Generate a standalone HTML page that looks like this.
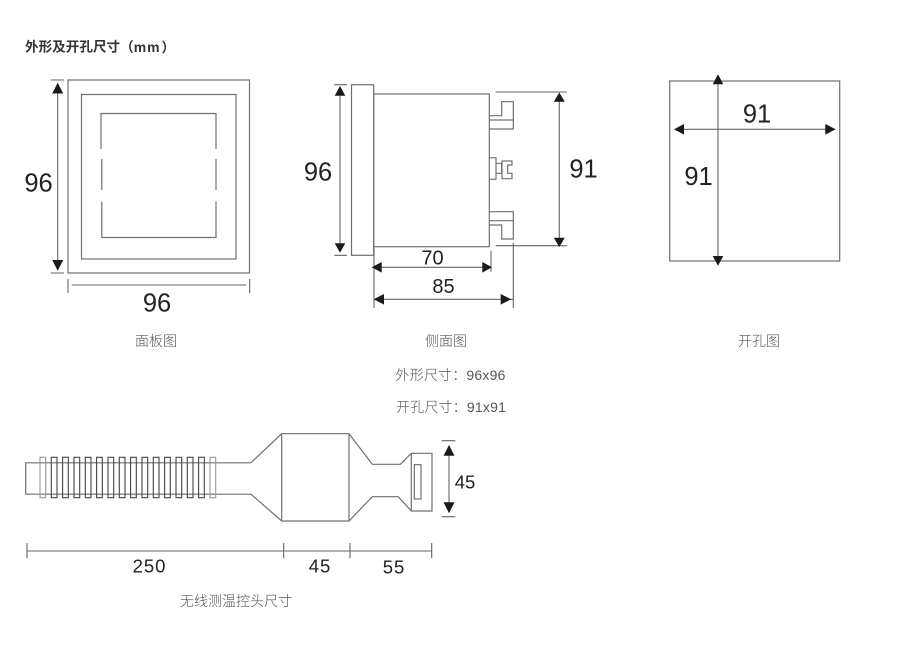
<!DOCTYPE html>
<html lang="zh">
<head>
<meta charset="utf-8">
<title>外形及开孔尺寸</title>
<style>
html,body{margin:0;padding:0;background:#fff;}
svg{display:block;}
.l{fill:none;stroke:#707070;stroke-width:1.2;}
.d{fill:none;stroke:#666;stroke-width:1.1;}
.a{fill:#1a1a1a;stroke:none;}
.n{font-family:"Liberation Sans",sans-serif;fill:#222;text-anchor:middle;dominant-baseline:central;}
.c{font-family:"Liberation Sans","Noto Sans CJK SC",sans-serif;fill:#555;font-size:14px;font-weight:300;text-anchor:middle;dominant-baseline:central;}
</style>
</head>
<body>
<svg width="900" height="647" viewBox="0 0 900 647" xmlns="http://www.w3.org/2000/svg">
<rect width="900" height="647" fill="#fff"/>

<text x="25" y="47" font-family="'Liberation Sans','Noto Sans CJK SC',sans-serif" font-size="13.6" font-weight="700" fill="#333" dominant-baseline="central">外形及开孔尺寸（<tspan font-size="14" letter-spacing="0.9">mm</tspan><tspan dx="1">）</tspan></text>

<!-- Panel view -->
<rect class="l" x="68" y="80" width="181.5" height="193"/>
<rect class="l" x="81.5" y="94.5" width="154.5" height="164.5"/>
<path class="l" d="M101 149V113.5H216V149M216 159V190M216 201.500V237.500H101.800V201.500M101.800 190V159"/>
<path class="d" d="M57.700 84V270M50.700 80H64M50.700 273H64"/>
<path class="a" d="M57.700 82.700L63.200 93.500H52.200ZM57.700 270.700L63.200 260H52.200Z"/>
<path class="d" d="M71.700 285H246M68 279V293M249.700 279V293"/>
<text class="n" x="38.500" y="183.700" font-size="25.500">96</text>
<text class="n" x="157" y="303.700" font-size="25.500">96</text>

<!-- Side view -->
<rect class="l" x="351.500" y="84.700" width="22.200" height="170.600"/>
<rect class="l" x="373.700" y="94" width="115.600" height="152.700"/>
<path class="d" d="M340 88V250M334.300 84.700H347M334.300 255.300H347"/>
<path class="a" d="M340 86L345.300 95.700H334.700ZM340 252.700L345.300 243.300H334.700Z"/>
<text class="n" x="318" y="172.700" font-size="25.500">96</text>

<path class="l" d="M489.300 115.700H501.700V101.700H513.300V129H489.300M489.300 120H513.300"/>
<path class="l" d="M489.300 211.700H513.300V239H501.700V225H489.300M489.300 220.700H513.300"/>
<path class="l" d="M489.300 157.700H496V179.300H489.300M496 163.300H501.700V173.300H496"/>
<path class="l" d="M502 161H512V165H507.700V173.300H512V178.700H502Z"/>

<path class="d" d="M495.700 92H566.700M495.700 245.700H566.700M559.300 95V244"/>
<path class="a" d="M559.300 92.500L564.800 101.700H553.800ZM559.300 247L564.800 237.700H553.800Z"/>
<text class="n" x="583.500" y="169.700" font-size="25.500">91</text>

<path class="d" d="M374 247V308M491 250.700V271.700M513.300 242.700V308M374 267.300H491M374 299.300H513"/>
<path class="a" d="M371.700 267.300L381.700 262V272.600ZM492 267.300L482.300 262V272.600ZM373.700 299.300L384 294V304.600ZM511 299.300L500.700 294V304.600Z"/>
<text class="n" x="432.500" y="258.500" font-size="20">70</text>
<text class="n" x="443.500" y="287" font-size="20">85</text>

<!-- Cutout -->
<rect class="l" x="669.700" y="81" width="170" height="180"/>
<path class="d" d="M718 76V264M676 129.300H834"/>
<path class="a" d="M718 74.300L723.300 84.300H712.700ZM718 265.700L723.300 256H712.700ZM674 129.300L684 124V134.600ZM835.700 129.300L825.300 124V134.600Z"/>
<text class="n" x="757" y="114.700" font-size="25.500">91</text>
<text class="n" x="698.500" y="177.200" font-size="25.500">91</text>

<text class="c" x="156" y="341">面板图</text>
<text class="c" x="446" y="341">侧面图</text>
<text class="c" x="759" y="341">开孔图</text>
<text class="c" x="450.500" y="375" letter-spacing="0.2">外形尺寸：96x96</text>
<text class="c" x="451" y="407" letter-spacing="0.2">开孔尺寸：91x91</text>

<!-- Probe -->
<path class="l" d="M250.700 462.800H25.700V494.200H250.700"/>
<g fill="none" stroke="#444" stroke-width="1.100">
<rect x="51.300" y="457.300" width="5.700" height="40.400"/>
<rect x="62.600" y="457.300" width="5.700" height="40.400"/>
<rect x="74" y="457.300" width="5.700" height="40.400"/>
<rect x="85.300" y="457.300" width="5.700" height="40.400"/>
<rect x="96.600" y="457.300" width="5.700" height="40.400"/>
<rect x="108" y="457.300" width="5.700" height="40.400"/>
<rect x="119.300" y="457.300" width="5.700" height="40.400"/>
<rect x="130.600" y="457.300" width="5.700" height="40.400"/>
<rect x="142" y="457.300" width="5.700" height="40.400"/>
<rect x="153.300" y="457.300" width="5.700" height="40.400"/>
<rect x="164.600" y="457.300" width="5.700" height="40.400"/>
<rect x="176" y="457.300" width="5.700" height="40.400"/>
<rect x="187.300" y="457.300" width="5.700" height="40.400"/>
<rect x="198.600" y="457.300" width="5.700" height="40.400"/>
</g>
<g fill="none" stroke="#999" stroke-width="1.100">
<rect x="40" y="457.300" width="5.700" height="40.400"/>
<rect x="210" y="457.300" width="5.700" height="40.400"/>
</g>
<path class="l" d="M250.700 463L281.700 433.700H349L372.300 464.300H400.300L411.300 453.300H432V511H411.300L398.300 496.700H372.300L349 521H281.700L250.700 494M281.700 433.700V521M349 433.700V521M411.300 453.300V511"/>
<rect class="l" x="414.300" y="464.700" width="6.700" height="34.300"/>
<path class="d" d="M449 448V510M441.700 440.700H455.300M441.700 516.700H455.300"/>
<path class="a" d="M449 445L454.500 455.700H443.500ZM449 513.300L454.500 502.300H443.500Z"/>
<text class="n" x="465" y="482" font-size="18.500">45</text>

<path class="d" d="M27 551H432M27 543V558.300M283.700 543V558.300M350 543V558.300M431.700 543V558.300"/>
<text class="n" x="149.500" y="566" font-size="18.500" letter-spacing="1">250</text>
<text class="n" x="320" y="566" font-size="18.500" letter-spacing="1">45</text>
<text class="n" x="394" y="567" font-size="18.500" letter-spacing="1">55</text>

<text class="c" x="236" y="601">无线测温控头尺寸</text>
</svg>
</body>
</html>
